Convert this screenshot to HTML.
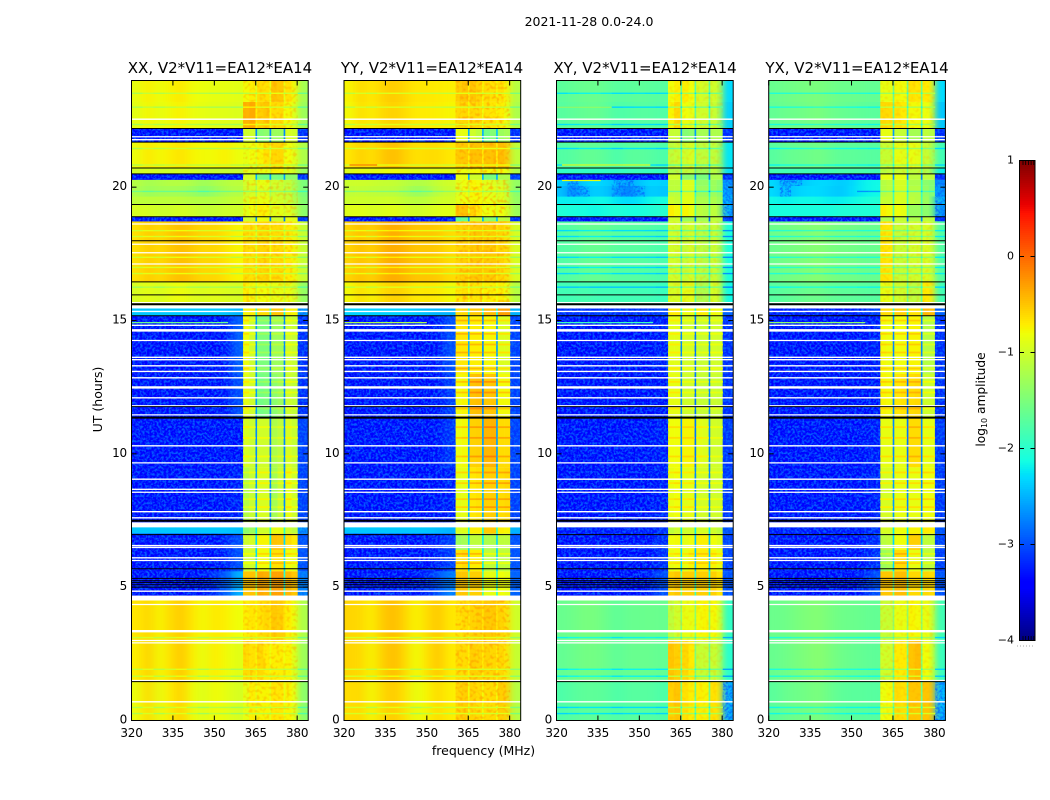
<!DOCTYPE html>
<html lang="en">
<head>
<meta charset="utf-8">
<title>2021-11-28 dynamic spectra</title>
<style>
html,body{margin:0;padding:0;background:#fff;width:1050px;height:800px;overflow:hidden}
svg{display:block}
text{font-family:"DejaVu Sans","Liberation Sans",sans-serif;fill:#000}
</style>
</head>
<body>
<svg id="fig" xmlns="http://www.w3.org/2000/svg" width="1050" height="800" viewBox="0 0 1050 800">
<defs>
<filter id="speckle" filterUnits="userSpaceOnUse" x="0" y="0" width="1050" height="800" color-interpolation-filters="sRGB">
<feTurbulence type="fractalNoise" baseFrequency="0.42" numOctaves="2" seed="5" result="n"/>
<feColorMatrix in="n" type="matrix" values="0 0 0 0 0.02  0 0 0 0 0.42  0 0 0 0 1  3.2 0 0 0 -1.25" result="c"/>
<feComposite in="c" in2="SourceAlpha" operator="in"/>
</filter>
<filter id="checker" filterUnits="userSpaceOnUse" x="0" y="0" width="1050" height="800" color-interpolation-filters="sRGB">
<feTurbulence type="fractalNoise" baseFrequency="0.3" numOctaves="1" seed="11" result="n"/>
<feColorMatrix in="n" type="matrix" values="0 0 0 0 1  0 0 0 0 0.62  0 0 0 0 0  4 0 0 0 -1.9" result="c"/>
<feComposite in="c" in2="SourceAlpha" operator="in"/>
</filter>
<filter id="smoothX" filterUnits="userSpaceOnUse" x="0" y="0" width="1050" height="800" color-interpolation-filters="sRGB">
<feGaussianBlur stdDeviation="5.5 0"/>
</filter>
<filter id="smoothTail" filterUnits="userSpaceOnUse" x="0" y="0" width="1050" height="800" color-interpolation-filters="sRGB">
<feGaussianBlur stdDeviation="3.5 0"/>
</filter>
</defs>
<text x="589" y="26" font-size="12.5" text-anchor="middle">2021-11-28 0.0-24.0</text>
<text x="220" y="73" font-size="15" text-anchor="middle">XX, V2*V11=EA12*EA14</text>
<text x="432" y="73" font-size="15" text-anchor="middle">YY, V2*V11=EA12*EA14</text>
<text x="645" y="73" font-size="15" text-anchor="middle">XY, V2*V11=EA12*EA14</text>
<text x="857" y="73" font-size="15" text-anchor="middle">YX, V2*V11=EA12*EA14</text>
<text x="483.5" y="755" font-size="12.5" text-anchor="middle">frequency (MHz)</text>
<text transform="translate(102,399.5) rotate(-90)" font-size="12.5" text-anchor="middle">UT (hours)</text>
<text transform="translate(985,399.5) rotate(-90)" font-size="12.2" text-anchor="middle">log<tspan font-size="8" dy="2">10</tspan><tspan dy="-2"> amplitude</tspan></text>
<g id="panels"></g>
<g id="colorbar"></g>
<line x1="1017" x2="1035" y1="646" y2="646" stroke="#aaa" stroke-width="1" stroke-dasharray="1 2"></line>
</svg>
<script>
const freqEdges = [320,324,328,332,336,340,344,348,352,356,360.4,362.6,364.9,365.5,367.8,370,370.6,372.9,375.1,375.7,378,380.2,384];
const utBands = [[0,1.46],[1.46,3],[3,4.5],[4.69,5.6],[5.6,6.4],[6.4,7.01],[7.01,7.24],[7.44,9.5],[9.5,11.36],[11.36,13],[13,15.18],[15.18,15.45],[15.58,16.45],[16.45,18.72],[18.72,18.89],[18.89,19.35],[19.35,19.65],[19.65,20.05],[20.05,20.28],[20.28,20.5],[20.5,20.72],[20.72,21.69],[21.69,22.2],[22.2,23.2],[23.2,24]];
const xxValues = [
[-.82,-.6,-.85,-.7,-.55,-.8,-.92,-.78,-.85,-.95,-.85,-.72,-.85,-.75,-.75,-.85,-.68,-.68,-.85,-.75,-.8,-1.4],
[-.72,-.55,-.78,-.65,-.5,-.72,-.85,-.7,-.78,-.88,-.62,-.65,-.75,-.6,-.7,-.8,-.72,-.72,-.8,-.75,-.85,-1.3],
[-.68,-.58,-.75,-.62,-.52,-.68,-.78,-.68,-.72,-.8,-.72,-.68,-.75,-.65,-.6,-.65,-.52,-.55,-.65,-.72,-.78,-1.2],
[-3.4,-3.4,-3.4,-3.4,-3.4,-3.4,-3.35,-3.2,-2.95,-2.5,-.5,-.48,-1.2,-.35,-.38,-1.7,-.3,-.3,-2,-.42,-.5,-2.7],
[-3.4,-3.4,-3.4,-3.4,-3.4,-3.4,-3.4,-3.4,-3.3,-3,-1,-1,-2.3,-.8,-.8,-2.2,-.65,-.65,-2.3,-.8,-.85,-3],
[-3.4,-3.4,-3.4,-3.4,-3.4,-3.4,-3.4,-3.4,-3.3,-3,-1,-.95,-2.3,-.75,-.75,-2.2,-.48,-.5,-2.3,-.62,-.7,-3],
[-2.4,-2.4,-2.4,-2.4,-2.4,-2.4,-2.4,-2.4,-2.4,-2.45,-1.4,-1.3,-2.2,-1,-1,-2,-.85,-.85,-2,-1,-1.1,-2.6],
[-3.4,-3.4,-3.4,-3.4,-3.4,-3.4,-3.4,-3.4,-3.4,-3.3,-1.15,-1.05,-2.6,-.95,-.95,-2.7,-1.25,-1.05,-2.7,-.85,-1,-3.1],
[-3.4,-3.4,-3.4,-3.4,-3.4,-3.4,-3.4,-3.4,-3.4,-3.4,-.95,-1.02,-2.7,-1,-1,-2.8,-1.2,-1.1,-2.7,-.95,-1.05,-3.1],
[-3.4,-3.4,-3.4,-3.4,-3.4,-3.4,-3.4,-3.4,-3.4,-3,-.88,-1,-2.6,-1.55,-1.5,-2.8,-1.4,-1.3,-2.7,-1.02,-1.08,-3.2],
[-3.4,-3.4,-3.4,-3.4,-3.4,-3.4,-3.4,-3.4,-3.4,-2.9,-.82,-1.02,-2.6,-1.5,-1.5,-2.8,-1.3,-1.3,-2.7,-1,-1.05,-3.2],
[-2.4,-2.4,-2.4,-2.4,-2.4,-2.4,-2.4,-2.4,-2.4,-2.5,-.75,-.7,-2,-.62,-.62,-2,-.5,-.5,-2.1,-.72,-.75,-2.6],
[-.95,-.85,-.95,-.85,-.8,-.9,-.92,-.88,-.92,-.95,-.72,-.78,-1,-.8,-.8,-.95,-.85,-.85,-1,-.85,-.9,-1.35],
[-.65,-.52,-.62,-.52,-.45,-.52,-.6,-.58,-.65,-.75,-.62,-.65,-.9,-.6,-.58,-.8,-.62,-.62,-.9,-.7,-.75,-1.05],
[-3.4,-3.4,-3.4,-3.4,-3.4,-3.4,-3.4,-3.4,-3.4,-3.4,-1,-1,-2.7,-.8,-.85,-2.8,-1,-1,-2.8,-.85,-.9,-3.2],
[-.95,-.95,-1,-1,-.95,-1,-1.05,-1.05,-1,-1,-.88,-.8,-1,-.72,-.75,-1,-.88,-.88,-1,-.9,-1,-1.4],
[-1.1,-1.1,-1.1,-1.1,-1.1,-1.15,-1.15,-1.15,-1.1,-1.05,-.95,-.85,-1,-.85,-.85,-1.1,-.95,-1,-1.1,-1.05,-1.12,-1.45],
[-1.2,-1.3,-1.25,-1.25,-1.25,-1.3,-1.42,-1.32,-1.2,-1.15,-1,-.95,-1.2,-.9,-.9,-1.2,-1.02,-1.02,-1.2,-1.08,-1.18,-1.5],
[-1.15,-1.25,-1.2,-1.15,-1.15,-1.2,-1.3,-1.22,-1.15,-1.1,-.98,-.9,-1.1,-.85,-.85,-1.1,-.98,-1.02,-1.1,-1.08,-1.18,-1.5],
[-3.4,-3.4,-3.4,-3.4,-3.4,-3.4,-3.4,-3.4,-3.4,-3.4,-.95,-.95,-2.5,-1.5,-1.55,-2.6,-1.5,-1.55,-2.6,-1.4,-1.4,-3.2],
[-1,-.95,-1,-1,-.95,-1,-1.05,-1.05,-1.05,-1.05,-.9,-.9,-1,-.85,-.85,-1,-.75,-.75,-1,-.9,-.95,-1.35],
[-.82,-.68,-.78,-.72,-.65,-.75,-.78,-.78,-.72,-.82,-.85,-.8,-.9,-.75,-.65,-.85,-.6,-.6,-.85,-.8,-.85,-1.2],
[-3.4,-3.4,-3.4,-3.4,-3.4,-3.4,-3.4,-3.4,-3.4,-3.4,-1,-1,-2.7,-1.45,-1.4,-2.7,-1.3,-1.3,-2.7,-.95,-1,-3.2],
[-.88,-.75,-.85,-.78,-.72,-.82,-.85,-.88,-.88,-.92,-.4,-.35,-.7,-.55,-.5,-.75,-.62,-.62,-.8,-.78,-.85,-1.3],
[-.85,-.72,-.82,-.75,-.68,-.8,-.82,-.85,-.85,-.88,-.78,-.72,-.9,-.62,-.65,-.85,-.48,-.52,-.85,-.65,-.75,-1.25]
];
const yyValues = [
[-.62,-.6,-.78,-.6,-.52,-.65,-.85,-.75,-.6,-.72,-.58,-.55,-.78,-.58,-.62,-.78,-.62,-.62,-.78,-.55,-.55,-1.15],
[-.58,-.6,-.75,-.55,-.45,-.6,-.8,-.65,-.5,-.7,-.62,-.62,-.72,-.55,-.58,-.7,-.58,-.6,-.7,-.6,-.65,-1.05],
[-.58,-.6,-.72,-.52,-.45,-.58,-.75,-.62,-.5,-.68,-.65,-.62,-.7,-.58,-.55,-.65,-.52,-.52,-.65,-.58,-.62,-1],
[-3.4,-3.4,-3.4,-3.4,-3.4,-3.4,-3.35,-3.25,-3,-2.7,-.5,-.5,-1.4,-.55,-.55,-1.8,-.85,-.85,-2,-.8,-.85,-2.9],
[-3.4,-3.4,-3.4,-3.4,-3.4,-3.4,-3.4,-3.4,-3.3,-3.1,-.65,-.62,-2.3,-.72,-.72,-2.2,-1.1,-1.1,-2.3,-1.1,-1.1,-3],
[-3.4,-3.4,-3.4,-3.4,-3.4,-3.4,-3.4,-3.4,-3.3,-3.1,-1.3,-1.25,-2.3,-1.1,-1.1,-2.2,-1.2,-1.2,-2.3,-1.1,-1.1,-3],
[-2.4,-2.4,-2.4,-2.4,-2.4,-2.4,-2.4,-2.4,-2.45,-2.5,-.92,-.9,-2.1,-.72,-.72,-2,-.52,-.52,-2,-.72,-.75,-2.5],
[-3.4,-3.4,-3.4,-3.4,-3.4,-3.4,-3.4,-3.4,-3.4,-3.3,-.88,-.85,-2.5,-.68,-.65,-2.5,-.56,-.54,-2.5,-.62,-.6,-3.1],
[-3.4,-3.4,-3.4,-3.4,-3.4,-3.4,-3.4,-3.4,-3.4,-3.15,-.82,-.78,-2.6,-.56,-.55,-2.6,-.42,-.4,-2.6,-.62,-.62,-3.1],
[-3.4,-3.4,-3.4,-3.4,-3.4,-3.4,-3.4,-3.4,-3.4,-3.1,-.78,-.75,-2.5,-.48,-.46,-2.7,-.52,-.5,-2.6,-.78,-.78,-3.1],
[-3.4,-3.4,-3.4,-3.4,-3.4,-3.4,-3.4,-3.4,-3.4,-3,-.68,-.68,-2.5,-.72,-.72,-2.7,-.78,-.75,-2.6,-.92,-.92,-3.1],
[-2.35,-2.35,-2.35,-2.35,-2.35,-2.35,-2.4,-2.45,-2.5,-2.5,-.62,-.6,-2,-.52,-.52,-2.1,-.45,-.45,-2.1,-.3,-.3,-2.5],
[-.78,-.62,-.76,-.62,-.55,-.6,-.7,-.68,-.7,-.78,-.7,-.65,-.8,-.68,-.68,-.8,-.72,-.72,-.8,-.72,-.78,-1.15],
[-.58,-.46,-.58,-.42,-.35,-.42,-.5,-.5,-.52,-.62,-.58,-.55,-.65,-.52,-.5,-.62,-.52,-.52,-.65,-.58,-.62,-.95],
[-3.4,-3.4,-3.4,-3.4,-3.4,-3.4,-3.4,-3.4,-3.4,-3.4,-1.7,-1.6,-2.6,-1,-1.05,-2.5,-1.35,-1.4,-2.4,-1.1,-1.15,-3.2],
[-.9,-.88,-.95,-.92,-.88,-.95,-1,-.95,-.9,-.88,-.5,-.48,-.85,-.58,-.68,-.85,-.82,-.82,-.9,-.82,-.88,-1.3],
[-1.02,-1,-1.02,-1,-1,-1.08,-1.12,-1.1,-1,-.98,-.88,-.82,-.9,-.78,-.78,-.9,-.82,-.88,-.95,-.92,-.98,-1.35],
[-1.08,-1.05,-1.08,-1.1,-1.1,-1.18,-1.32,-1.25,-1.1,-1.02,-.92,-.82,-1,-.75,-.75,-1,-.88,-.88,-1,-.92,-1,-1.4],
[-1.02,-1,-1.02,-1.05,-1.05,-1.12,-1.18,-1.15,-1.05,-.98,-.88,-.82,-.95,-.75,-.78,-.95,-.88,-.92,-1,-.98,-1.05,-1.35],
[-3.4,-3.4,-3.4,-3.4,-3.4,-3.4,-3.4,-3.4,-3.4,-3.4,-.85,-.85,-2.5,-1,-1,-2.5,-1.5,-1.5,-2.5,-1.2,-1.2,-3.1],
[-.92,-.85,-.9,-.85,-.8,-.85,-.92,-.88,-.9,-.92,-.82,-.82,-.95,-.78,-.78,-.95,-.78,-.78,-.95,-.78,-.82,-1.2],
[-.68,-.55,-.65,-.52,-.45,-.55,-.65,-.62,-.62,-.68,-.52,-.52,-.7,-.48,-.48,-.7,-.48,-.48,-.7,-.45,-.48,-1.1],
[-3.4,-3.4,-3.4,-3.4,-3.4,-3.4,-3.4,-3.4,-3.4,-3.4,-.85,-.85,-2.5,-1,-1.1,-2.5,-1.55,-1.45,-2.4,-1.3,-1.25,-3.2],
[-.78,-.62,-.72,-.6,-.55,-.62,-.7,-.7,-.72,-.75,-.6,-.6,-.75,-.6,-.62,-.8,-.65,-.68,-.75,-.72,-.78,-1.2],
[-.75,-.6,-.7,-.58,-.52,-.6,-.68,-.68,-.7,-.72,-.55,-.5,-.7,-.5,-.58,-.75,-.62,-.65,-.75,-.65,-.72,-1.15]
];
const xyValues = [
[-1.78,-1.72,-1.68,-1.68,-1.7,-1.78,-1.72,-1.72,-1.72,-1.78,-.55,-.5,-1.5,-.65,-.72,-1.6,-.72,-.75,-1.6,-.65,-.68,-2.5],
[-1.65,-1.6,-1.55,-1.55,-1.6,-1.68,-1.62,-1.62,-1.62,-1.65,-.5,-.55,-1.4,-.6,-.7,-1.5,-1.05,-1.05,-1.6,-1.05,-1.1,-2],
[-1.62,-1.58,-1.52,-1.52,-1.6,-1.68,-1.62,-1.62,-1.6,-1.62,-1.1,-1,-1.4,-.85,-.85,-1.4,-.78,-.75,-1.4,-.78,-.85,-1.95],
[-3.4,-3.4,-3.4,-3.4,-3.4,-3.4,-3.4,-3.4,-3.3,-3,-.55,-.5,-1.6,-.55,-.55,-1.9,-.55,-.55,-2.1,-.55,-.65,-3],
[-3.4,-3.4,-3.4,-3.4,-3.4,-3.4,-3.4,-3.4,-3.4,-3.2,-.85,-.8,-2.3,-.85,-.75,-2.4,-.7,-.7,-2.4,-.75,-.85,-3.1],
[-3.4,-3.4,-3.4,-3.4,-3.4,-3.4,-3.4,-3.4,-3.4,-3.2,-.8,-.78,-2.3,-.85,-.8,-2.4,-.72,-.72,-2.4,-.8,-.88,-3.1],
[-3.3,-3.3,-3.3,-3.3,-3.3,-3.3,-3.3,-3.3,-3.3,-3.2,-1.1,-1,-2.2,-1,-1,-2.2,-.95,-.95,-2.2,-1,-1.1,-3],
[-3.4,-3.4,-3.4,-3.4,-3.4,-3.4,-3.4,-3.4,-3.4,-3.3,-.85,-.8,-2.6,-.88,-.85,-2.7,-.98,-.98,-2.7,-.98,-1,-3.15],
[-3.4,-3.4,-3.4,-3.4,-3.4,-3.4,-3.4,-3.4,-3.4,-3.3,-.8,-.8,-2.7,-.75,-.75,-2.8,-.88,-.92,-2.7,-.98,-1,-3.15],
[-3.4,-3.4,-3.4,-3.4,-3.4,-3.4,-3.4,-3.4,-3.4,-3.35,-.85,-.85,-2.7,-1,-1,-2.8,-1.05,-1.05,-2.7,-1.02,-1.05,-3.2],
[-3.4,-3.4,-3.4,-3.4,-3.4,-3.4,-3.4,-3.4,-3.4,-3.3,-.88,-.88,-2.7,-.98,-.98,-2.8,-1.05,-1.02,-2.7,-.98,-1,-3.2],
[-3.2,-3.2,-3.2,-3.2,-3.2,-3.2,-3.2,-3.2,-3.2,-3.1,-.7,-.7,-2.1,-.82,-.82,-2.1,-.72,-.72,-2.1,-.78,-.82,-2.9],
[-1.85,-1.85,-1.8,-1.85,-1.85,-1.85,-1.85,-1.85,-1.85,-1.9,-.95,-.95,-1.7,-.88,-.88,-1.7,-1.2,-1.2,-1.7,-.98,-1,-2.15],
[-1.75,-1.72,-1.65,-1.62,-1.65,-1.72,-1.72,-1.72,-1.75,-1.8,-.98,-1,-1.7,-1.05,-.98,-1.6,-1.1,-1.15,-1.7,-1.05,-1.1,-2.1],
[-3.4,-3.4,-3.4,-3.4,-3.4,-3.4,-3.4,-3.4,-3.4,-3.4,-1,-1,-2.7,-1.3,-1.3,-2.8,-1.25,-1.25,-2.8,-1.1,-1.15,-3.2],
[-2.05,-2.1,-2.1,-2.15,-2.1,-2.05,-2.1,-2.1,-2.05,-2,-.72,-.78,-1.8,-.75,-.82,-1.7,-1.1,-1.15,-1.7,-1.1,-1.15,-2.5],
[-2.2,-2.2,-2.2,-2.15,-2.15,-2.25,-2.3,-2.25,-2.15,-2.1,-1,-1.05,-1.7,-.88,-.88,-1.7,-1.2,-1.2,-1.8,-1.2,-1.3,-2.5],
[-2.42,-2.7,-2.45,-2.35,-2.4,-2.55,-2.75,-2.5,-2.35,-2.4,-1.1,-1.1,-1.8,-.92,-.92,-1.9,-1.3,-1.3,-2,-1.3,-1.4,-2.55],
[-2.35,-2.55,-2.35,-2.3,-2.35,-2.45,-2.55,-2.42,-2.3,-2.35,-1.1,-1.1,-1.9,-.92,-.92,-1.9,-1.35,-1.35,-2,-1.3,-1.4,-2.6],
[-3.4,-3.4,-3.4,-3.4,-3.4,-3.4,-3.4,-3.4,-3.4,-3.4,-1,-1,-2.6,-1.4,-1.4,-2.6,-1.5,-1.5,-2.7,-1.2,-1.2,-3.2],
[-1.95,-1.95,-1.95,-1.95,-1.95,-1.95,-1.9,-1.9,-1.9,-1.95,-1.2,-1.2,-1.7,-1.1,-1.1,-1.7,-1.3,-1.3,-1.8,-1.15,-1.2,-2.3],
[-1.75,-1.72,-1.65,-1.65,-1.7,-1.8,-1.7,-1.7,-1.72,-1.78,-1.1,-1.05,-1.7,-1,-.95,-1.7,-1.1,-1.1,-1.8,-1.1,-1.15,-2.25],
[-3.4,-3.4,-3.4,-3.4,-3.4,-3.4,-3.4,-3.4,-3.4,-3.4,-1.05,-1.05,-2.6,-1.45,-1.4,-2.6,-1.25,-1.25,-2.7,-1.2,-1.2,-3.2],
[-1.72,-1.68,-1.65,-1.62,-1.68,-1.78,-1.75,-1.72,-1.72,-1.75,-.75,-.6,-1.7,-.8,-.85,-1.7,-1,-1,-1.8,-1.05,-1.15,-2.35],
[-1.7,-1.65,-1.62,-1.6,-1.65,-1.72,-1.7,-1.68,-1.7,-1.72,-.8,-.72,-1.7,-.72,-.8,-1.7,-.95,-1,-1.7,-1,-1.05,-2.3]
];
const yxValues = [
[-1.7,-1.62,-1.58,-1.55,-1.5,-1.6,-1.68,-1.7,-1.7,-1.72,-.82,-.78,-1.5,-.62,-.65,-1.6,-.5,-.5,-1.6,-.5,-.5,-2.45],
[-1.62,-1.58,-1.52,-1.48,-1.42,-1.5,-1.58,-1.62,-1.65,-1.68,-1,-1,-1.5,-.7,-.7,-1.5,-.5,-.45,-1.5,-.8,-.85,-1.9],
[-1.6,-1.58,-1.52,-1.48,-1.45,-1.52,-1.58,-1.6,-1.62,-1.65,-1.05,-1.05,-1.4,-.85,-.85,-1.4,-.75,-.78,-1.4,-.85,-.9,-1.85],
[-3.4,-3.4,-3.4,-3.4,-3.4,-3.4,-3.4,-3.4,-3.3,-3,-.5,-.5,-1.6,-.45,-.45,-1.9,-.6,-.6,-2.1,-.6,-.62,-3],
[-3.4,-3.4,-3.4,-3.4,-3.4,-3.4,-3.4,-3.4,-3.4,-3.2,-1.3,-1.25,-2.3,-.62,-.62,-2.3,-.85,-.85,-2.4,-1.1,-1.1,-3.1],
[-3.4,-3.4,-3.4,-3.4,-3.4,-3.4,-3.4,-3.4,-3.4,-3.2,-1.12,-1.08,-2.3,-.8,-.8,-2.3,-.55,-.55,-2.4,-1.08,-1.1,-3.1],
[-3.3,-3.3,-3.3,-3.3,-3.3,-3.3,-3.3,-3.3,-3.3,-3.2,-.95,-.95,-2.2,-.8,-.8,-2.2,-.75,-.75,-2.2,-.7,-.72,-3],
[-3.4,-3.4,-3.4,-3.4,-3.4,-3.4,-3.4,-3.4,-3.4,-3.3,-.95,-.95,-2.6,-.85,-.85,-2.7,-.85,-.85,-2.7,-.8,-.82,-3.15],
[-3.4,-3.4,-3.4,-3.4,-3.4,-3.4,-3.4,-3.4,-3.4,-3.3,-.85,-.85,-2.7,-.85,-.85,-2.8,-.62,-.62,-2.7,-.85,-.88,-3.15],
[-3.4,-3.4,-3.4,-3.4,-3.4,-3.4,-3.4,-3.4,-3.4,-3.35,-.75,-.78,-2.7,-.68,-.65,-2.8,-.62,-.6,-2.7,-1,-1.02,-3.2],
[-3.4,-3.4,-3.4,-3.4,-3.4,-3.4,-3.4,-3.4,-3.4,-3.3,-.78,-.82,-2.7,-.8,-.8,-2.8,-.75,-.75,-2.7,-1.15,-1.15,-3.2],
[-3.3,-3.3,-3.3,-3.3,-3.3,-3.3,-3.3,-3.3,-3.3,-3.1,-.62,-.62,-2.1,-.55,-.55,-2.1,-.65,-.65,-2.1,-.42,-.45,-2.9],
[-1.72,-1.68,-1.65,-1.6,-1.58,-1.65,-1.68,-1.68,-1.7,-1.72,-.85,-.85,-1.6,-1,-1,-1.6,-1.1,-1.1,-1.6,-.7,-.7,-1.85],
[-1.6,-1.55,-1.52,-1.48,-1.42,-1.5,-1.55,-1.55,-1.6,-1.62,-.65,-.68,-1.5,-1.05,-1.05,-1.5,-1,-1,-1.5,-.95,-.95,-1.75],
[-3.4,-3.4,-3.4,-3.4,-3.4,-3.4,-3.4,-3.4,-3.4,-3.4,-1.2,-1.2,-2.7,-1.05,-1.05,-2.7,-1.2,-1.2,-2.7,-1.1,-1.15,-3.2],
[-2.1,-2.1,-2.1,-2.1,-2.1,-2.1,-2.05,-2.05,-2.05,-2.05,-.72,-.78,-1.7,-.8,-.85,-1.7,-1.3,-1.3,-1.7,-1.4,-1.42,-2.6],
[-2.15,-2.2,-2.15,-2.15,-2.15,-2.2,-2.2,-2.15,-2.1,-2.05,-1.05,-1.05,-1.8,-.92,-.95,-1.8,-1.1,-1.15,-1.8,-1.3,-1.4,-2.5],
[-2.3,-2.45,-2.35,-2.3,-2.3,-2.35,-2.4,-2.3,-2.2,-2.15,-1.15,-1.1,-1.8,-.95,-.95,-1.8,-1.15,-1.15,-1.9,-1.35,-1.45,-2.6],
[-2.3,-2.5,-2.45,-2.35,-2.3,-2.32,-2.38,-2.32,-2.2,-2.15,-1.15,-1.1,-1.8,-.95,-.95,-1.8,-1.2,-1.2,-1.9,-1.4,-1.45,-2.65],
[-3.4,-3.4,-3.4,-3.4,-3.4,-3.4,-3.4,-3.4,-3.4,-3.4,-.85,-.85,-2.6,-.85,-.85,-2.6,-1.1,-1.1,-2.7,-1.1,-1.1,-3.2],
[-1.85,-1.85,-1.85,-1.85,-1.85,-1.85,-1.8,-1.8,-1.8,-1.85,-1.15,-1.1,-1.7,-1.05,-1.05,-1.7,-1.1,-1.1,-1.7,-1.2,-1.25,-2.2],
[-1.72,-1.65,-1.62,-1.6,-1.55,-1.62,-1.68,-1.68,-1.7,-1.72,-1.05,-1.05,-1.7,-.85,-.88,-1.7,-.85,-.88,-1.7,-1.05,-1.1,-1.85],
[-3.4,-3.4,-3.4,-3.4,-3.4,-3.4,-3.4,-3.4,-3.4,-3.4,-.85,-.85,-2.6,-1.05,-1.05,-2.6,-1.25,-1.25,-2.6,-1.1,-1.15,-3.2],
[-1.65,-1.6,-1.58,-1.55,-1.5,-1.58,-1.62,-1.65,-1.68,-1.7,-.6,-.62,-1.6,-.65,-.7,-1.6,-.78,-.78,-1.7,-.82,-.85,-2.4],
[-1.62,-1.58,-1.55,-1.52,-1.5,-1.55,-1.6,-1.6,-1.62,-1.65,-.85,-.85,-1.6,-.78,-.8,-1.6,-.65,-.68,-1.6,-.7,-.72,-2.3]
];
const panelValues = [xxValues, yyValues, xyValues, yxValues];
const dimLineUT = [0.26,0.49,1.66,1.92,3.11,16.25,16.76,16.99,17.37,18.15,18.37,19.84,20.83,21.45,22.35,23,23.52];
const dimDeltaByPanel = [-0.35,-0.35,-0.55,-0.45];
const columnStripeUT = [5.9,6.25,8,8.3,8.9,9.3,9.9,10.6,11,11.7,12.3,12.7,13.2,13.8,14.1,14.5,15];
const columnStripeDelta = [0.2,0.28,0.18,0.22];
const checkerStrength = [0.4,0.6,0.18,0.22];
const hotStreaksXX = [[14.92,320,355,-1.6]];
const hotStreaksYY = [[14.92,320,350,-1.2],[20.83,322,332,-.1]];
const hotStreaksXY = [[14.92,320,355,-1.9],[20.83,322,354,-.85],[20.25,322,336,-.85],[23,320,340,-1.2]];
const hotStreaksYX = [[14.92,320,355,-1.4]];
const panelStreaks = [hotStreaksXX, hotStreaksYY, hotStreaksXY, hotStreaksYX];
const whiteLineUT = [4.35,3.35,3,2.91,1.5,.7,4.85,6,6.1,6.49,6.56,7.6,7.83,8.56,8.67,9.05,9.66,10.3,11.46,11.8,12.1,12.49,12.85,13.09,13.3,13.53,13.62,14.25,14.63,14.82,15.34,15.67,17.12,17.54,17.86,18.62,21.78,21.89,22.55];
const wideWhiteUT = [3.35,12.49,14.63];
const blackLineUT = [1.46,5.69,5.33,5.24,5.17,5.09,5,6.97,11.77,15.18,15.96,16.45,17.99,18.89,19.35,20.5,20.72,21.69,22.2];
const wideBlackUT = [7.49,11.36,15.61];
const xTicks = [320,335,350,365,380];
const yTicks = [0,5,10,15,20];
const cbTicks = [1,0,-1,-2,-3,-4];
const cbTickLabels = ['1','0','\u22121','\u22122','\u22123','\u22124'];
const panelLeft = [131.5,344,556.5,768.7];
const panelSlugs = ['xx','yy','xy','yx'];
const AXW = 176.7, AY0 = 80.5, AY1 = 720.5, FMIN = 320, FMAX = 384, UMAX = 24;
const VMIN = -4, VMAX = 1;
const NS = 'http://www.w3.org/2000/svg';

function lerpStops(t, stops) {
  if (t <= stops[0][0]) return stops[0][1];
  for (let i = 1; i < stops.length; i++) {
    if (t <= stops[i][0]) {
      const a = stops[i - 1], b = stops[i];
      return a[1] + (b[1] - a[1]) * (t - a[0]) / (b[0] - a[0]);
    }
  }
  return stops[stops.length - 1][1];
}
const RED = [[0,0],[.35,0],[.66,1],[.89,1],[1,.5]];
const GREEN = [[0,0],[.125,0],[.375,1],[.64,1],[.91,0],[1,0]];
const BLUE = [[0,.5],[.11,1],[.34,1],[.65,0],[1,0]];
function jet(v) {
  const t = Math.max(0, Math.min(1, (v - VMIN) / (VMAX - VMIN)));
  return 'rgb(' + Math.round(255 * lerpStops(t, RED)) + ',' + Math.round(255 * lerpStops(t, GREEN)) + ',' + Math.round(255 * lerpStops(t, BLUE)) + ')';
}
function xScale(f, x0) { return x0 + (f - FMIN) / (FMAX - FMIN) * AXW; }
function yScale(u) { return AY1 - u / UMAX * (AY1 - AY0); }
function mk(tag, parent, attrs) {
  const el = document.createElementNS(NS, tag);
  for (const k in attrs) el.setAttribute(k, attrs[k]);
  parent.appendChild(el);
  return el;
}
const defsEl = document.querySelector('defs');
const panelsG = document.getElementById('panels');
panelValues.forEach(function (rows, p) {
  const x0 = panelLeft[p];
  const g = mk('g', panelsG, {});
  
  
  const clipL = mk('clipPath', defsEl, { id: 'clipL' + p });
  mk('rect', clipL, { x: x0, y: AY0, width: xScale(freqEdges[10], x0) - x0, height: AY1 - AY0 });
  const clipT = mk('clipPath', defsEl, { id: 'clipT' + p });
  mk('rect', clipT, { x: xScale(378, x0), y: AY0, width: x0 + AXW - xScale(378, x0), height: AY1 - AY0 });
  const cellsG = mk('g', g, {});
  const smoothClip = mk('g', g, { 'clip-path': 'url(#clipL' + p + ')' });
  const smoothG = mk('g', smoothClip, { filter: 'url(#smoothX)' });
  const tailClip = mk('g', g, { 'clip-path': 'url(#clipT' + p + ')' });
  const tailG = mk('g', tailClip, { filter: 'url(#smoothTail)' });
  const check = mk('g', g, { filter: 'url(#checker)', opacity: String(checkerStrength[p]) });
  const speck = mk('g', g, { filter: 'url(#speckle)', opacity: '0.85' });
  rows.forEach(function (row, r) {
    const band = utBands[r];
    const yTop = yScale(band[1]), yBot = yScale(band[0]);
    row.forEach(function (v, c) {
      const xa = xScale(freqEdges[c], x0), xb = xScale(freqEdges[c + 1], x0);
      const geom = { x: xa.toFixed(2), y: yTop.toFixed(2), width: (xb - xa + 0.3).toFixed(2), height: (yBot - yTop + 0.1).toFixed(2) };
      const rect = mk('rect', cellsG, Object.assign({ fill: jet(v) }, geom));
      
      
      if (c < 10) {
        mk('rect', smoothG, Object.assign({ fill: jet(v) }, geom));
      }
      if ((c === 20 || c === 21) && row[0] > -2.2) {
        mk('rect', tailG, Object.assign({ fill: jet(v) }, geom));
      }
      const isNoiseBin = c < 10 || c === row.length - 1;
      const noiseFloor = p >= 2 ? -2.42 : -2.52;
      if (isNoiseBin && v < noiseFloor) {
        mk('rect', speck, Object.assign({ fill: '#000' }, geom));
      }
    });
    if (row[0] > -2) {
      const xa = xScale(freqEdges[10], x0), xb = xScale(freqEdges[21], x0);
      mk('rect', check, { x: xa.toFixed(2), y: yTop.toFixed(2), width: (xb - xa).toFixed(2), height: (yBot - yTop).toFixed(2), fill: '#000' });
    }
  });
  dimLineUT.forEach(function (u) {
    const r = utBands.findIndex(function (b) { return u >= b[0] && u < b[1]; });
    if (r < 0) return;
    rows[r].forEach(function (v, c) {
      if (v < -2.2) return;
      const xa = xScale(freqEdges[c], x0), xb = xScale(freqEdges[c + 1], x0);
      const rect = mk('rect', g, { x: xa.toFixed(2), y: (yScale(u) - 0.7).toFixed(2), width: (xb - xa + 0.3).toFixed(2), height: '1.4', fill: jet(v + dimDeltaByPanel[p]) });
      
      
    });
  });
  columnStripeUT.forEach(function (u) {
    const r = utBands.findIndex(function (b) { return u >= b[0] && u < b[1]; });
    if (r < 0) return;
    rows[r].forEach(function (v, c) {
      if (c < 10 || v < -2) return;
      const xa = xScale(freqEdges[c], x0), xb = xScale(freqEdges[c + 1], x0);
      const rect = mk('rect', g, { x: xa.toFixed(2), y: (yScale(u) - 0.9).toFixed(2), width: (xb - xa + 0.2).toFixed(2), height: '1.8', fill: jet(v + columnStripeDelta[p]) });
      
      
    });
  });
  panelStreaks[p].forEach(function (s) {
    const line = mk('line', g, { x1: xScale(s[1], x0), x2: xScale(s[2], x0), y1: yScale(s[0]), y2: yScale(s[0]), stroke: jet(s[3]), 'stroke-width': '1.2' });
    
    
  });
  whiteLineUT.forEach(function (u) {
    const w = wideWhiteUT.indexOf(u) >= 0 ? 2.4 : 1.3;
    const line = mk('line', g, { x1: x0, x2: x0 + AXW, y1: yScale(u), y2: yScale(u), stroke: '#fff', 'stroke-width': w });
    
    
  });
  blackLineUT.forEach(function (u) {
    const line = mk('line', g, { x1: x0, x2: x0 + AXW, y1: yScale(u), y2: yScale(u), stroke: '#000', 'stroke-width': '1' });
    
    
  });
  wideBlackUT.forEach(function (u) {
    const line = mk('line', g, { x1: x0, x2: x0 + AXW, y1: yScale(u), y2: yScale(u), stroke: '#000', 'stroke-width': '2' });
    
    
  });
  const frame = mk('rect', g, { x: x0, y: AY0, width: AXW, height: AY1 - AY0, fill: 'none', stroke: '#000', 'stroke-width': '1' });
  
  
  xTicks.forEach(function (f) {
    const X = xScale(f, x0);
    const tb = mk('line', g, { x1: X, x2: X, y1: AY1, y2: AY1 - 5, stroke: '#000', 'stroke-width': '1' });
    
    
    const tt = mk('line', g, { x1: X, x2: X, y1: AY0, y2: AY0 + 5, stroke: '#000', 'stroke-width': '1' });
    
    
    const lab = mk('text', g, { x: X, y: 737, 'font-size': '12', 'letter-spacing': '-0.2', 'text-anchor': 'middle' });
    
    
    lab.textContent = String(f);
  });
  yTicks.forEach(function (u) {
    const Y = yScale(u);
    const tl = mk('line', g, { x1: x0, x2: x0 + 5, y1: Y, y2: Y, stroke: '#000', 'stroke-width': '1' });
    
    
    const tr = mk('line', g, { x1: x0 + AXW, x2: x0 + AXW - 5, y1: Y, y2: Y, stroke: '#000', 'stroke-width': '1' });
    
    
    const lab = mk('text', g, { x: x0 - 4.5, y: Y + 3, 'font-size': '12', 'letter-spacing': '-0.2', 'text-anchor': 'end' });
    
    
    lab.textContent = String(u);
  });
});

const cbG = document.getElementById('colorbar');
const CBX = 1019.5, CBW = 15.5, CBY0 = 160.5, CBY1 = 640.5;
function cbScale(v) { return CBY1 - (v - VMIN) / (VMAX - VMIN) * (CBY1 - CBY0); }
for (let i = 0; i < 240; i++) {
  const va = VMIN + (VMAX - VMIN) * i / 240, vb = VMIN + (VMAX - VMIN) * (i + 1) / 240;
  const seg = mk('rect', cbG, { x: CBX, y: cbScale(vb), width: CBW, height: cbScale(va) - cbScale(vb) + 0.4, fill: jet((va + vb) / 2) });
  
  
}
const cbFrame = mk('rect', cbG, { x: CBX, y: CBY0, width: CBW, height: CBY1 - CBY0, fill: 'none', stroke: '#000', 'stroke-width': '1' });


cbTicks.forEach(function (v, i) {
  const Y = cbScale(v);
  const t1 = mk('line', cbG, { x1: CBX, x2: CBX + 4.5, y1: Y, y2: Y, stroke: '#000', 'stroke-width': '1' });
  
  
  const t2 = mk('line', cbG, { x1: CBX + CBW, x2: CBX + CBW - 4.5, y1: Y, y2: Y, stroke: '#000', 'stroke-width': '1' });
  
  
  const lab = mk('text', cbG, { x: CBX - 5.5, y: Y + 2.8, 'font-size': '11', 'text-anchor': 'end' });
  
  
  lab.textContent = cbTickLabels[i];
});
for (let i = 0; i < 5; i++) {
  const X = CBX + 3.5 + i * 2.7;
  const m1 = mk('line', cbG, { x1: X, x2: X, y1: CBY0, y2: CBY0 + 4.5, stroke: '#000', 'stroke-width': '0.8' });
  
  
  const m2 = mk('line', cbG, { x1: X, x2: X, y1: CBY1, y2: CBY1 - 4.5, stroke: '#000', 'stroke-width': '0.8' });
  
  
}
</script>
</body>
</html>
